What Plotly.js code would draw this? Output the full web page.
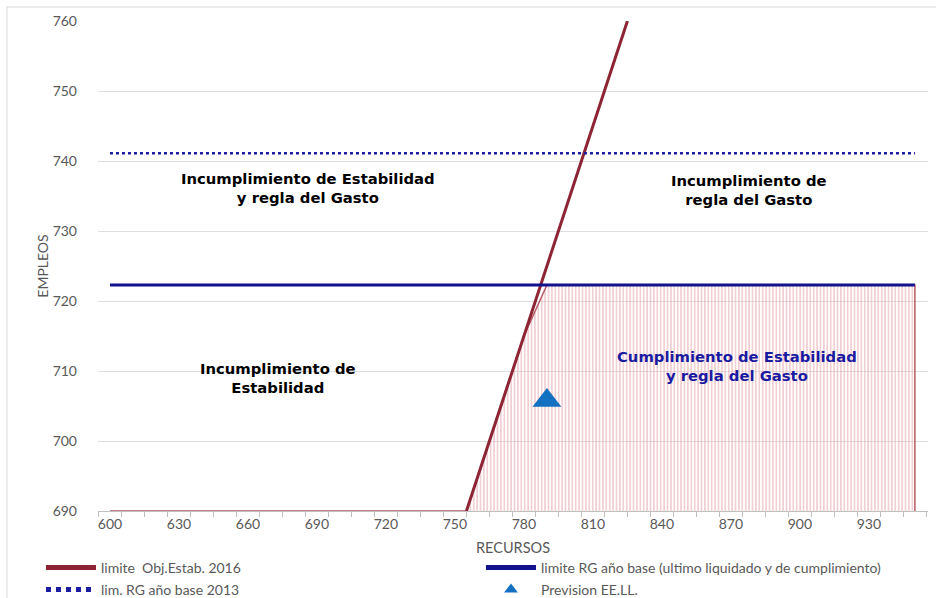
<!DOCTYPE html>
<html>
<head>
<meta charset="utf-8">
<script src="https://cdn.plot.ly/plotly-3.0.1.min.js"></script>
<style>html,body{margin:0;padding:0;background:#fff;}#chart{width:936px;height:598px;}</style>
</head>
<body>
<div id="chart"></div>
<script>
// ---- data ----
const limiteRecursos = [755, 825];          // limite Obj.Estab. 2016 (x)
const limiteEmpleos = [690, 760];           // limite Obj.Estab. 2016 (y)
const rgBaseX = [600, 950];                 // limite RG año base
const rgBaseY = [722.3, 722.3];
const rg2013X = [600, 950];                 // lim. RG año base 2013
const rg2013Y = [741.1, 741.1];
const zonaX = [600, 755, 780, 790, 950, 950]; // zona de cumplimiento
const zonaY = [690, 690, 715, 722.3, 722.3, 690];
const previsionX = [790];                   // Prevision EE.LL.
const previsionY = [705.8];
const xTicks = [600, 630, 660, 690, 720, 750, 780, 810, 840, 870, 900, 930];
const yTicks = [690, 700, 710, 720, 730, 740, 750, 760];
const etiquetas = [
  {x: 686, y: 736.1, text: 'Incumplimiento de Estabilidad<br>y regla del Gasto', color: '#000000'},
  {x: 878, y: 735.9, text: 'Incumplimiento de<br>regla del Gasto', color: '#000000'},
  {x: 673, y: 709.0, text: 'Incumplimiento de<br>Estabilidad', color: '#000000'},
  {x: 872.6, y: 710.7, text: 'Cumplimiento de Estabilidad<br>y regla del Gasto', color: '#1a1aa0'}
];

const FONT = 'Lato, "Open Sans", sans-serif';
const traces = [
  {x: zonaX, y: zonaY, type: 'scatter', mode: 'lines', fill: 'toself', showlegend: false, hoverinfo: 'skip',
   line: {color: '#b85a68', width: 1.5},
   fillcolor: 'rgba(0,0,0,0)',
   fillpattern: {shape: '|', fgcolor: '#e6b0b8', bgcolor: 'rgba(255,255,255,0)', size: 3.4, solidity: 0.3}},
  {x: limiteRecursos, y: limiteEmpleos, type: 'scatter', mode: 'lines', name: 'limite  Obj.Estab. 2016',
   line: {color: '#8c2434', width: 3}, legend: 'legend', legendrank: 1},
  {x: rg2013X, y: rg2013Y, type: 'scatter', mode: 'lines', name: 'lim. RG año base 2013',
   line: {color: '#1c1ca0', width: 2.5, dash: 'dot'}, legend: 'legend2', legendrank: 1},
  {x: rgBaseX, y: rgBaseY, type: 'scatter', mode: 'lines', name: 'limite RG año base (ultimo liquidado y de cumplimiento)',
   line: {color: '#12128f', width: 3}, legend: 'legend', legendrank: 2},
  {x: previsionX, y: previsionY, type: 'scatter', mode: 'markers', name: 'Prevision EE.LL.',
   marker: {symbol: 'triangle-up', size: 25, color: '#1470c0'}, legend: 'legend2', legendrank: 2}
];

const legendBase = {orientation: 'h', xref: 'paper', yref: 'paper', x: -0.0687, xanchor: 'left', yanchor: 'middle',
  entrywidthmode: 'pixels', entrywidth: 375, itemwidth: 50, itemsizing: 'constant',
  font: {family: FONT, size: 14, color: '#595959'}, bgcolor: 'rgba(0,0,0,0)', borderwidth: 0};

const layout = {
  width: 936, height: 598,
  margin: {l: 98, r: 8, t: 21, b: 87, autoexpand: false},
  paper_bgcolor: '#ffffff', plot_bgcolor: '#ffffff',
  font: {family: FONT, color: '#595959', size: 14},
  showlegend: true,
  legend: Object.assign({}, legendBase, {y: -0.1163}),
  legend2: Object.assign({}, legendBase, {y: -0.1612}),
  xaxis: {range: [594.8, 955.7], tickvals: xTicks, ticktext: xTicks.map(String), showgrid: false, zeroline: false,
    showline: true, linecolor: '#bfbfbf', linewidth: 1, ticks: '',
    minor: {ticks: 'outside', tick0: 595, dtick: 10, ticklen: 5, tickcolor: '#bfbfbf', showgrid: false},
    tickfont: {size: 14, color: '#595959'},
    title: {text: 'RECURSOS', font: {size: 14.5, color: '#595959'}, standoff: 12}},
  yaxis: {range: [690, 760], tickvals: yTicks, ticktext: yTicks.map(String), showgrid: true, gridcolor: '#dedede', gridwidth: 1,
    zeroline: false, showline: false, ticks: '', ticklabelstandoff: 20,
    tickfont: {size: 14, color: '#595959'},
    title: {text: 'EMPLEOS', font: {size: 14, color: '#595959'}, standoff: 0}},
  annotations: etiquetas.map(e => ({x: e.x, y: e.y, xref: 'x', yref: 'y', text: '<b>' + e.text + '</b>', showarrow: false,
    font: {family: '"DejaVu Sans", sans-serif', size: 14.8, color: e.color}, align: 'center'})),
  shapes: [
    {type: 'line', xref: 'paper', yref: 'paper', x0: -91/830, x1: -91/830, y0: -1.2, y1: 1.03, line: {color: '#d9d9d9', width: 1}},
    {type: 'line', xref: 'paper', yref: 'paper', x0: -91/830, x1: 1.02, y0: 1 + 14/490, y1: 1 + 14/490, line: {color: '#d9d9d9', width: 1}}
  ]
};

Plotly.newPlot('chart', traces, layout, {displayModeBar: false, staticPlot: true});
</script>
</body>
</html>
